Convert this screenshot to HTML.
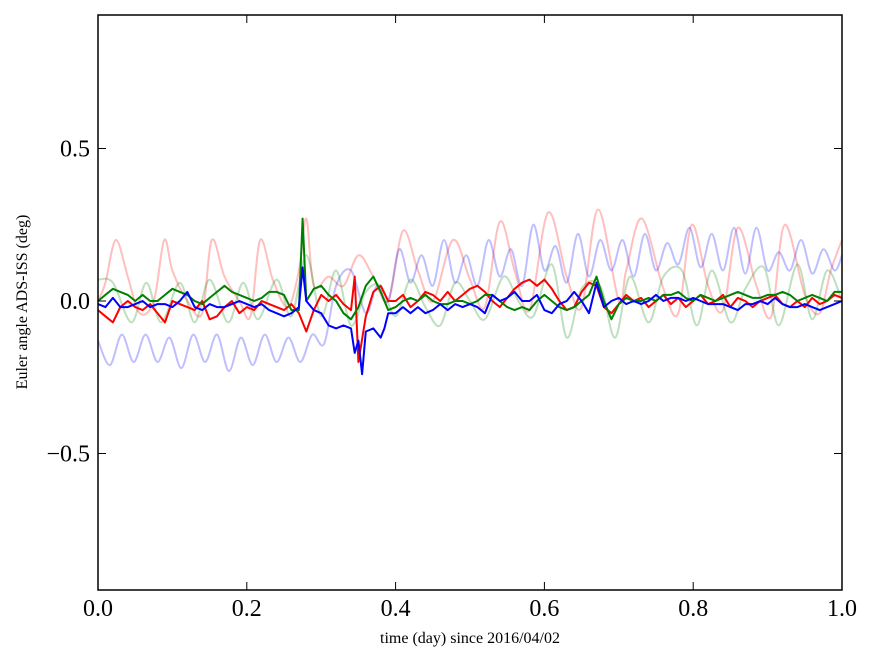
<!DOCTYPE html>
<html><head><meta charset="utf-8"><style>
body{margin:0;background:#fff;width:875px;height:662px;overflow:hidden}
text{font-family:"Liberation Serif",serif}
</style></head><body>
<svg id="chart" width="875" height="662" xmlns="http://www.w3.org/2000/svg">
<g id="plot"></g>
<g id="axes"></g>
<text x="470" y="643" font-size="16" text-anchor="middle">time (day) since 2016/04/02</text>
<text transform="translate(27,302) rotate(-90)" font-size="16" text-anchor="middle">Euler angle ADS-ISS (deg)</text>
</svg>
<script>
const xTicks=[0,0.2,0.4,0.6,0.8,1.0];
const xTickLabels=["0.0","0.2","0.4","0.6","0.8","1.0"];
const yTicks=[0.5,0,-0.5];
const yTickLabels=["0.5","0.0","\u22120.5"];

const pinkT=[0,0.01,0.024,0.04,0.056,0.075,0.089,0.1,0.12,0.14,0.153,0.17,0.19,0.205,0.218,0.235,0.255,0.27,0.28,0.29,0.31,0.33,0.35,0.37,0.39,0.41,0.43,0.45,0.477,0.5,0.52,0.54,0.56,0.58,0.605,0.63,0.65,0.672,0.70,0.71,0.731,0.76,0.78,0.798,0.82,0.84,0.86,0.885,0.905,0.923,0.95,0.97,0.985,1.0];
const pinkV=[0.0,0.06,0.2,0.08,-0.04,0.0,0.2,0.1,0.0,-0.04,0.2,0.08,0.0,-0.05,0.2,0.07,-0.02,0.1,0.27,0.05,0.08,0.05,0.15,0.08,0.0,0.23,0.1,0.0,0.2,0.07,-0.02,0.26,0.1,-0.03,0.29,0.08,-0.02,0.3,0.0,0.1,0.27,0.04,-0.04,0.25,0.05,-0.03,0.24,0.05,-0.05,0.25,0.02,-0.04,0.1,0.2];
const lblueT=[0,0.016,0.032,0.048,0.064,0.08,0.096,0.112,0.128,0.144,0.16,0.176,0.192,0.208,0.224,0.24,0.256,0.272,0.288,0.304,0.32,0.34,0.36,0.375,0.39,0.405,0.42,0.435,0.45,0.465,0.48,0.495,0.51,0.525,0.54,0.555,0.57,0.585,0.60,0.615,0.63,0.645,0.66,0.675,0.69,0.705,0.72,0.735,0.75,0.765,0.78,0.795,0.81,0.825,0.84,0.855,0.87,0.885,0.90,0.915,0.93,0.945,0.96,0.975,0.99,1.0];
const lblueV=[-0.13,-0.21,-0.11,-0.2,-0.11,-0.2,-0.12,-0.22,-0.11,-0.2,-0.11,-0.23,-0.12,-0.21,-0.11,-0.2,-0.12,-0.2,-0.11,-0.14,0.05,0.1,-0.04,0.05,0.0,0.17,0.06,0.15,0.05,0.2,0.06,0.15,0.05,0.2,0.08,0.17,0.05,0.25,0.1,0.18,0.06,0.22,0.08,0.2,0.1,0.2,0.08,0.22,0.1,0.19,0.12,0.24,0.11,0.22,0.1,0.24,0.09,0.24,0.1,0.16,0.1,0.2,0.09,0.17,0.1,0.15];
const lgreenT=[0,0.02,0.045,0.065,0.085,0.11,0.13,0.15,0.175,0.195,0.215,0.24,0.26,0.28,0.30,0.32,0.34,0.36,0.38,0.40,0.42,0.44,0.46,0.48,0.50,0.52,0.545,0.565,0.585,0.61,0.63,0.65,0.675,0.695,0.715,0.74,0.76,0.785,0.805,0.825,0.85,0.87,0.895,0.915,0.94,0.96,0.98,1.0];
const lgreenV=[0.07,0.06,-0.07,0.06,-0.07,0.06,-0.07,0.07,-0.07,0.06,-0.06,0.07,-0.05,0.15,-0.05,0.1,-0.08,0.03,0.05,-0.05,0.07,-0.02,-0.08,0.06,0.0,-0.06,0.08,0.0,-0.05,0.12,-0.12,0.04,0.05,-0.12,0.08,-0.07,0.08,0.1,-0.08,0.1,-0.07,0.04,0.11,-0.08,0.12,-0.06,0.1,0.0];

const redT=[0,0.01,0.02,0.03,0.04,0.05,0.06,0.07,0.08,0.09,0.10,0.11,0.12,0.13,0.14,0.15,0.16,0.17,0.18,0.19,0.20,0.21,0.22,0.23,0.24,0.25,0.26,0.27,0.28,0.29,0.30,0.31,0.32,0.33,0.34,0.345,0.35,0.36,0.37,0.38,0.39,0.40,0.41,0.42,0.43,0.44,0.45,0.46,0.47,0.48,0.49,0.50,0.51,0.52,0.53,0.54,0.55,0.56,0.57,0.58,0.59,0.60,0.61,0.62,0.63,0.64,0.65,0.66,0.67,0.68,0.69,0.70,0.71,0.72,0.73,0.74,0.75,0.76,0.77,0.78,0.79,0.80,0.81,0.82,0.83,0.84,0.85,0.86,0.87,0.88,0.89,0.90,0.91,0.92,0.93,0.94,0.95,0.96,0.97,0.98,0.99,1.0];
const redV=[-0.03,-0.05,-0.07,-0.02,0.0,-0.02,-0.03,-0.01,-0.04,-0.07,0.0,-0.01,-0.02,-0.03,0.0,-0.06,-0.05,-0.02,0.0,-0.04,-0.02,-0.03,0.0,-0.01,-0.02,-0.03,-0.01,-0.04,-0.1,-0.03,0.02,0.0,0.02,-0.01,-0.03,0.08,-0.2,-0.05,0.03,0.05,0.0,0.0,0.02,-0.02,0.0,0.03,0.02,0.0,0.03,0.0,0.02,0.04,0.05,0.03,0.0,-0.02,0.01,0.04,0.06,0.07,0.05,0.07,0.04,0.0,-0.03,-0.02,0.03,0.06,0.05,-0.02,-0.04,-0.01,0.02,0.0,0.01,-0.02,0.0,0.02,-0.01,0.01,-0.02,0.0,0.02,-0.01,0.0,0.02,-0.02,0.01,0.0,-0.02,0.0,0.01,0.02,-0.01,-0.02,0.0,-0.02,0.01,-0.01,0.0,0.02,0.01];
const greenT=[0,0.01,0.02,0.03,0.04,0.05,0.06,0.07,0.08,0.09,0.10,0.11,0.12,0.13,0.14,0.15,0.16,0.17,0.18,0.19,0.20,0.21,0.22,0.23,0.24,0.25,0.26,0.27,0.275,0.28,0.29,0.30,0.31,0.32,0.33,0.34,0.35,0.36,0.37,0.38,0.39,0.40,0.41,0.42,0.43,0.44,0.45,0.46,0.47,0.48,0.49,0.50,0.51,0.52,0.53,0.54,0.55,0.56,0.57,0.58,0.59,0.60,0.61,0.62,0.63,0.64,0.65,0.66,0.67,0.68,0.69,0.70,0.71,0.72,0.73,0.74,0.75,0.76,0.77,0.78,0.79,0.80,0.81,0.82,0.83,0.84,0.85,0.86,0.87,0.88,0.89,0.90,0.91,0.92,0.93,0.94,0.95,0.96,0.97,0.98,0.99,1.0];
const greenV=[0.0,0.02,0.04,0.03,0.02,0.0,0.02,0.0,0.0,0.02,0.04,0.03,0.02,0.0,-0.01,0.01,0.03,0.05,0.03,0.02,0.01,0.0,0.01,0.03,0.03,0.02,-0.03,-0.03,0.27,0.0,0.04,0.05,0.02,0.0,-0.04,-0.06,-0.02,0.05,0.08,0.03,-0.03,-0.02,0.0,0.01,0.0,0.02,0.0,-0.01,-0.01,0.0,0.0,-0.01,0.0,0.02,0.02,0.0,-0.02,-0.03,-0.02,-0.03,0.0,0.02,0.0,-0.02,-0.03,-0.02,0.0,0.02,0.08,0.0,-0.06,-0.01,0.01,0.0,0.0,0.01,0.0,0.02,0.02,0.03,0.01,0.0,0.02,0.01,0.0,0.01,0.02,0.03,0.02,0.01,0.01,0.02,0.02,0.03,0.02,0.0,0.01,0.02,0.01,0.0,0.03,0.03];
const blueT=[0,0.01,0.02,0.03,0.04,0.05,0.06,0.07,0.08,0.09,0.10,0.11,0.12,0.13,0.14,0.15,0.16,0.17,0.18,0.19,0.20,0.21,0.22,0.23,0.24,0.25,0.26,0.27,0.275,0.28,0.29,0.30,0.31,0.32,0.33,0.34,0.345,0.35,0.355,0.36,0.37,0.38,0.385,0.39,0.40,0.41,0.42,0.43,0.44,0.45,0.46,0.47,0.48,0.49,0.50,0.51,0.52,0.53,0.54,0.55,0.56,0.57,0.58,0.59,0.60,0.61,0.62,0.63,0.64,0.65,0.66,0.67,0.68,0.69,0.70,0.71,0.72,0.73,0.74,0.75,0.76,0.77,0.78,0.79,0.80,0.81,0.82,0.83,0.84,0.85,0.86,0.87,0.88,0.89,0.90,0.91,0.92,0.93,0.94,0.95,0.96,0.97,0.98,0.99,1.0];
const blueV=[-0.01,-0.02,0.01,-0.02,-0.02,-0.01,0.0,-0.02,-0.01,-0.01,-0.02,0.0,0.03,-0.02,-0.03,-0.01,-0.02,-0.02,-0.01,0.0,-0.01,-0.02,-0.01,-0.03,-0.04,-0.05,-0.04,-0.02,0.11,0.0,-0.03,-0.04,-0.08,-0.09,-0.08,-0.09,-0.17,-0.13,-0.24,-0.1,-0.09,-0.12,-0.09,-0.04,-0.04,-0.02,-0.04,-0.02,-0.04,-0.03,-0.01,-0.03,-0.01,-0.02,-0.01,-0.02,-0.04,0.02,0.0,0.01,0.03,0.0,0.0,0.02,-0.03,-0.04,-0.01,0.0,0.03,0.0,-0.04,0.06,-0.02,0.0,0.01,-0.01,0.0,-0.01,0.0,0.02,0.0,0.01,0.01,0.0,0.01,0.0,-0.01,-0.01,-0.01,-0.02,-0.03,-0.01,-0.01,0.0,-0.01,0.01,-0.01,-0.02,-0.02,-0.01,-0.02,-0.03,-0.02,-0.01,0.0];

const X0=98,X1=842,Y0=15,Y1=590;
const yZero=301,yScale=305;
function sx(t){return X0+t*(X1-X0);}
function sy(v){return yZero-v*yScale;}
const NS="http://www.w3.org/2000/svg";
const plot=document.getElementById('plot');
function line(ts,vs,color,op,name,smooth){
  const p=document.createElementNS(NS,'path');
  
  
  const pts=ts.map((t,i)=>[sx(t),sy(vs[i])]);
  let d='M'+pts[0][0].toFixed(1)+','+pts[0][1].toFixed(1);
  for(let i=1;i<pts.length;i++){
    if(smooth){
      const p0=pts[Math.max(0,i-2)],p1=pts[i-1],p2=pts[i],p3=pts[Math.min(pts.length-1,i+1)];
      const c1=[p1[0]+(p2[0]-p0[0])/6,p1[1]+(p2[1]-p0[1])/6];
      const c2=[p2[0]-(p3[0]-p1[0])/6,p2[1]-(p3[1]-p1[1])/6];
      d+='C'+c1[0].toFixed(1)+','+c1[1].toFixed(1)+' '+c2[0].toFixed(1)+','+c2[1].toFixed(1)+' '+p2[0].toFixed(1)+','+p2[1].toFixed(1);
    } else d+='L'+pts[i][0].toFixed(1)+','+pts[i][1].toFixed(1);
  }
  p.setAttribute('d',d);p.setAttribute('fill','none');p.setAttribute('stroke',color);
  p.setAttribute('stroke-opacity',op);p.setAttribute('stroke-width','2');p.setAttribute('stroke-linejoin','round');
  plot.appendChild(p);
}
line(pinkT,pinkV,'#ff0000',0.25,'series-red-faint',true);
line(lblueT,lblueV,'#0000ff',0.25,'series-blue-faint',true);
line(lgreenT,lgreenV,'#008000',0.25,'series-green-faint',true);
line(redT,redV,'#ff0000',1,'series-red',false);
line(greenT,greenV,'#008000',1,'series-green',false);
line(blueT,blueV,'#0000ff',1,'series-blue',false);

const axes=document.getElementById('axes');
const fr=document.createElementNS(NS,'rect');


fr.setAttribute('x',X0);fr.setAttribute('y',Y0);fr.setAttribute('width',X1-X0);fr.setAttribute('height',Y1-Y0);
fr.setAttribute('fill','none');fr.setAttribute('stroke','#000');fr.setAttribute('stroke-width','1.5');
axes.appendChild(fr);
function seg(x1,y1,x2,y2,name){
  const l=document.createElementNS(NS,'line');
  
  
  l.setAttribute('x1',x1);l.setAttribute('y1',y1);l.setAttribute('x2',x2);l.setAttribute('y2',y2);
  l.setAttribute('stroke','#000');l.setAttribute('stroke-width','1');axes.appendChild(l);
}
function txt(x,y,s,anchor,name){
  const t=document.createElementNS(NS,'text');
  
  
  t.setAttribute('x',x);t.setAttribute('y',y);t.setAttribute('font-size','24');t.setAttribute('text-anchor',anchor);
  t.textContent=s;axes.appendChild(t);
}
xTicks.forEach((t,i)=>{const x=sx(t);seg(x,Y1,x,Y1-8,'x-tick');seg(x,Y0,x,Y0+8,'x-tick-top');txt(x,616,xTickLabels[i],'middle','x-tick-label');});
yTicks.forEach((v,i)=>{const y=sy(v);seg(X0,y,X0+8,y,'y-tick');seg(X1,y,X1-8,y,'y-tick-right');txt(90,y+8,yTickLabels[i],'end','y-tick-label');});
</script>
</body></html>
